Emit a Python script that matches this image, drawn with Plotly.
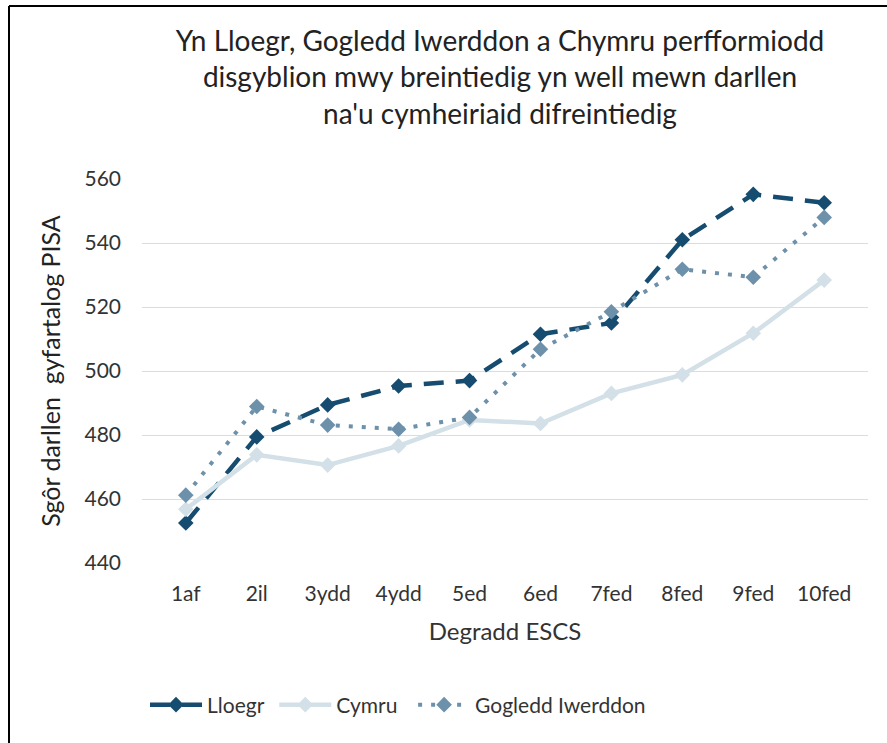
import plotly.graph_objects as go

categories = ["1af", "2il", "3ydd", "4ydd", "5ed", "6ed", "7fed", "8fed", "9fed", "10fed"]
lloegr = [452.5, 479.4, 489.4, 495.3, 497.0, 511.5, 515.0, 541.0, 555.2, 552.6]
cymru = [456.8, 473.8, 470.6, 476.6, 484.7, 483.6, 493.0, 498.8, 511.8, 528.4]
gogledd = [461.2, 488.9, 483.1, 481.8, 485.5, 506.8, 518.5, 531.8, 529.3, 548.0]
y_ticks = [440, 460, 480, 500, 520, 540, 560]
series_names = ["Lloegr", "Cymru", "Gogledd Iwerddon"]

title_text = ("Yn Lloegr, Gogledd Iwerddon a Chymru perfformiodd<br>"
              "disgyblion mwy breintiedig yn well mewn darllen<br>"
              "na'u cymheiriaid difreintiedig")

FONT = "Lato, 'Open Sans', sans-serif"
NB = "\u00a0"

fig = go.Figure()
fig.add_trace(go.Scatter(
    x=categories, y=lloegr, name=series_names[0] + NB, mode="lines+markers",
    line=dict(color="#154C70", width=4.5, dash="20px,12px"),
    marker=dict(symbol="diamond", size=12, color="#154C70"),
))
fig.add_trace(go.Scatter(
    x=categories, y=cymru, name=series_names[1] + NB * 2, mode="lines+markers",
    line=dict(color="#D3E0E7", width=4.5),
    marker=dict(symbol="diamond", size=12, color="#D3E0E7"),
))
fig.add_trace(go.Scatter(
    x=categories, y=gogledd, name=series_names[2], mode="lines+markers",
    line=dict(color="#6E91AB", width=4, dash="4px,9px"),
    marker=dict(symbol="diamond", size=12, color="#6E91AB"),
))

L, R, T, B = 142, 19, 179, 180
W, H = 887, 743
pw = W - L - R
ph = H - T - B

def px_x(px):
    return (px - L) / pw

def px_y(py):
    return (H - B - py) / ph

fig.update_layout(
    width=W, height=H,
    margin=dict(l=L, r=R, t=T, b=B, pad=0),
    paper_bgcolor="white", plot_bgcolor="white",
    font=dict(family=FONT, color="#333333", size=21),
    title=dict(text=title_text, xref="container", x=500 / W, xanchor="center",
               yref="container", y=1 - 51 / H, yanchor="middle",
               font=dict(size=28, color="#222222", family=FONT)),
    xaxis=dict(
        type="category", showgrid=False, zeroline=False, showline=False,
        ticks="", tickfont=dict(size=21, color="#333333"), ticklabelstandoff=16,
        title=dict(text="Degradd ESCS", font=dict(size=24, color="#333333"), standoff=19),
        fixedrange=True,
    ),
    yaxis=dict(
        range=[440, 560], tickvals=y_ticks, showgrid=True, gridcolor="#DCDCDC",
        gridwidth=1, zeroline=False, showline=False, ticks="",
        tickfont=dict(size=21, color="#333333"), ticklabelstandoff=20,
        title=dict(text="Sgôr darllen  gyfartalog PISA", font=dict(size=25, color="#222222"), standoff=16),
        fixedrange=True,
    ),
    legend=dict(orientation="h", x=px_x(145), xanchor="left",
                y=px_y(705), yanchor="middle",
                font=dict(size=21, color="#333333"),
                itemwidth=52, traceorder="normal"),
    showlegend=True,
    shapes=[
        dict(type="line", xref="paper", yref="paper",
             x0=px_x(9), x1=px_x(9), y0=px_y(6), y1=px_y(H + 5),
             line=dict(color="black", width=2)),
        dict(type="line", xref="paper", yref="paper",
             x0=px_x(9), x1=px_x(W + 5), y0=px_y(6), y1=px_y(6),
             line=dict(color="black", width=2)),
    ],
)

fig.write_html("out.html", config={"displayModeBar": False},
               post_script="document.body.style.margin='0';")
